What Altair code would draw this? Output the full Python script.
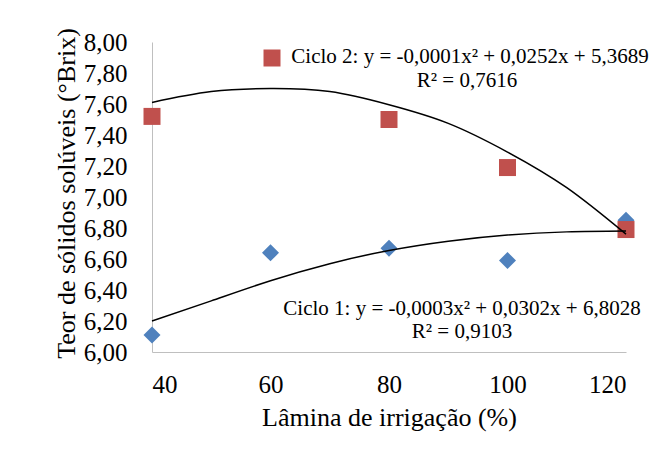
import altair as alt
import pandas as pd

# ---- data ----
x_ticks = [40, 60, 80, 100, 120]
y_ticks = [6.0, 6.2, 6.4, 6.6, 6.8, 7.0, 7.2, 7.4, 7.6, 7.8, 8.0]

ciclo1_x = [40, 60, 80, 100, 120]
ciclo1_y = [6.11, 6.64, 6.67, 6.59, 6.85]

ciclo2_x = [40, 80, 100, 120]
ciclo2_y = [7.52, 7.50, 7.19, 6.79]

# trend curves
trend_x = [40, 50, 60, 70, 80, 90, 100, 110, 120]
trend1_y = [6.20, 6.33, 6.46, 6.57, 6.655, 6.715, 6.755, 6.775, 6.78]
trend2_y = [7.61, 7.68, 7.70, 7.68, 7.595, 7.475, 7.29, 7.06, 6.76]

eq2_text = "Ciclo 2: y = -0,0001x² + 0,0252x + 5,3689"
r2_2_text = "R² = 0,7616"
eq1_text = "Ciclo 1: y = -0,0003x² + 0,0302x + 6,8028"
r2_1_text = "R² = 0,9103"

RED = "#C0504D"
BLUE = "#4F81BD"
FONT = "Liberation Serif"

df1 = pd.DataFrame({"x": ciclo1_x, "y": ciclo1_y})
df2 = pd.DataFrame({"x": ciclo2_x, "y": ciclo2_y})
dft = pd.DataFrame({
    "x": trend_x + trend_x,
    "y": trend1_y + trend2_y,
    "s": ["Ciclo 1"] * len(trend_x) + ["Ciclo 2"] * len(trend_x),
})

X = alt.X(
    "x:Q",
    scale=alt.Scale(domain=[40, 120], nice=False, zero=False),
    axis=alt.Axis(
        values=x_ticks, title="Lâmina de irrigação (%)", grid=False, ticks=False,
        tickSize=0, domainColor="#bfbfbf", domainWidth=1,
        labelFont=FONT, labelFontSize=25, labelColor="black", labelPadding=20,
        titleFont=FONT, titleFontSize=26, titleFontWeight="normal", titleColor="black",
        titleBaseline="alphabetic", titleY=73, titleX=237, titleAnchor="middle",
    ),
)
Y = alt.Y(
    "y:Q",
    scale=alt.Scale(domain=[6, 8], nice=False, zero=False),
    axis=alt.Axis(
        values=y_ticks, title="Teor de sólidos solúveis (°Brix)", grid=False, ticks=False,
        tickSize=0, domainColor="#bfbfbf", domainWidth=1,
        labelExpr="replace(format(datum.value, '.2f'), '.', ',')",
        labelFont=FONT, labelFontSize=25, labelColor="black", labelPadding=25,
        titleFont=FONT, titleFontSize=26, titleFontWeight="normal", titleColor="black",
        titleBaseline="alphabetic", titleX=-78, titleY=151, titleAngle=270,
    ),
)

blue = alt.Chart(df1).mark_point(shape="diamond", filled=True, size=290, color=BLUE, opacity=1).encode(x=X, y=Y)
red = alt.Chart(df2).mark_square(size=289, color=RED, opacity=1).encode(x=X, y=Y)
lines = alt.Chart(dft).mark_line(color="black", strokeWidth=1.5, interpolate="natural").encode(
    x=X, y=Y, detail="s:N"
)


def label(txt, px, py, size=21):
    return alt.Chart(pd.DataFrame({"t": [txt]})).mark_text(
        font=FONT, fontSize=size, color="black", align="center", baseline="alphabetic"
    ).encode(text="t:N", x=alt.value(px), y=alt.value(py))


key = alt.Chart(pd.DataFrame({"k": ["Ciclo 2"]})).mark_square(size=289, color=RED, opacity=1).encode(
    x=alt.value(120), y=alt.value(16), detail="k:N"
)

chart = alt.layer(
    blue, red, lines,
    key,
    label(eq2_text, 318, 21),
    label(r2_2_text, 315, 45),
    label(eq1_text, 310, 273),
    label(r2_1_text, 310, 296),
).properties(
    width=474, height=310,
    autosize=alt.AutoSizeParams(type="none"),
    padding={"left": 144, "top": 34, "right": 34, "bottom": 99},
    background="white",
).configure_view(stroke=None)

chart.save("out.html", embed_options={"renderer": "svg", "actions": False})
